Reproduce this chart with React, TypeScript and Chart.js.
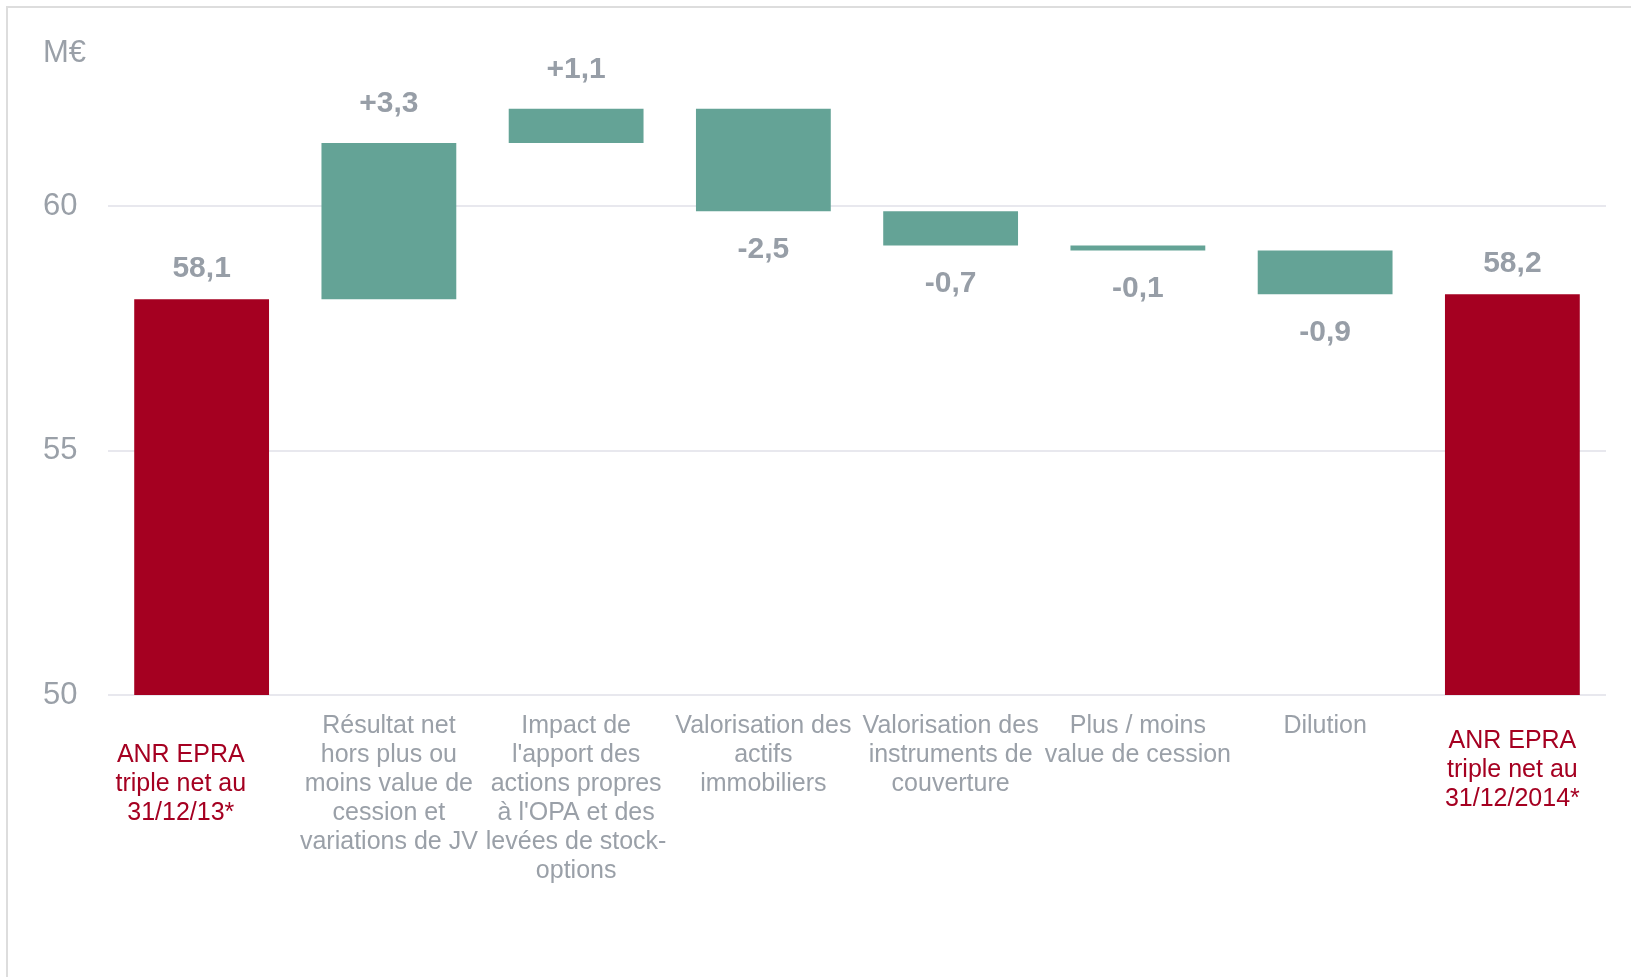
import React, { useEffect, useRef } from "react";
import { Chart, registerables } from "chart.js";

Chart.register(...registerables);

const categories: string[][] = [
  ["", "ANR EPRA      ", "triple net au      ", "31/12/13*      "],
  ["Résultat net", "hors plus ou", "moins value de", "cession et", "variations de JV"],
  ["Impact de", "l'apport des", "actions propres", "à l'OPA et des", "levées de stock-", "options"],
  ["Valorisation des", "actifs", "immobiliers"],
  ["Valorisation des", "instruments de", "couverture"],
  ["Plus / moins", "value de cession"],
  ["Dilution"],
  ["ANR EPRA", "triple net au", "31/12/2014*"],
];

const barStart: number[] = [50, 58.1, 61.3, 62.0, 59.9, 59.2, 59.1, 50];
const barEnd: number[] = [58.1, 61.3, 62.0, 59.9, 59.2, 59.1, 58.2, 58.2];
const valueLabels: string[] = ["58,1", "+3,3", "+1,1", "-2,5", "-0,7", "-0,1", "-0,9", "58,2"];
const isTotal: boolean[] = [true, false, false, false, false, false, false, true];

const yMin = 50;
const yMax = 63.14;
const yStep = 5;
const yUnitLabel = "M€";

const RED = "#A50021";
const TEAL = "#64A396";
const GRAY = "#9AA0A8";
const LABEL_GRAY = "#979EA7";
const FONT = "'Liberation Sans', Arial, Helvetica, sans-serif";
const LAST = categories.length - 1;

const valueLabelPlugin = {
  id: "valueLabels",
  afterDatasetsDraw(chart: any) {
    const ctx = chart.ctx;
    const meta = chart.getDatasetMeta(0);
    ctx.save();
    ctx.font = `bold 30px ${FONT}`;
    ctx.fillStyle = LABEL_GRAY;
    ctx.textAlign = "center";
    ctx.textBaseline = "middle";
    meta.data.forEach((bar: any, i: number) => {
      const top = Math.min(bar.y, bar.base);
      const bottom = Math.max(bar.y, bar.base);
      const negative = !isTotal[i] && barEnd[i] < barStart[i];
      const y = negative ? bottom + 38 : top - (isTotal[i] ? 31 : 39);
      ctx.fillText(valueLabels[i], bar.x, y);
    });
    ctx.restore();
  },
};

const tickFont = { family: FONT, size: 25, lineHeight: 1.16 } as any;

export default function App() {
  const ref = useRef<HTMLCanvasElement | null>(null);

  useEffect(() => {
    if (!ref.current) return;
    const chart = new Chart(ref.current, {
      type: "bar",
      data: {
        labels: categories as any,
        datasets: [
          {
            data: barStart.map((s, i) => [s, barEnd[i]]) as any,
            backgroundColor: isTotal.map((t) => (t ? RED : TEAL)),
            borderWidth: 0,
            barPercentage: 0.72,
            categoryPercentage: 1,
          },
        ],
      },
      options: {
        animation: false,
        responsive: true,
        maintainAspectRatio: false,
        layout: { padding: { top: 53, left: 43, right: 25, bottom: 74 } },
        plugins: {
          legend: { display: false },
          tooltip: { enabled: false },
          title: { display: false },
        },
        scales: {
          x: {
            grid: { display: false, drawTicks: false },
            border: { display: false },
            ticks: {
              autoSkip: false,
              maxRotation: 0,
              minRotation: 0,
              padding: 17,
              font: tickFont,
              color: (c: any) => (isTotal[c.index] ? RED : GRAY),
              callback: (_v: any, i: number) => (i === LAST ? "" : categories[i]),
            },
          },
          x2: {
            type: "category",
            position: "bottom",
            weight: -1,
            labels: categories as any,
            min: 0,
            max: LAST,
            offset: true,
            afterFit: (axis: any) => {
              axis.height = 0;
            },
            grid: { display: false, drawTicks: false },
            border: { display: false },
            ticks: {
              autoSkip: false,
              maxRotation: 0,
              minRotation: 0,
              mirror: true,
              padding: -61,
              font: tickFont,
              color: RED,
              callback: (_v: any, i: number) => (i === LAST ? categories[i] : ""),
            },
          } as any,
          y: {
            min: yMin,
            max: yMax,
            afterFit: (axis: any) => {
              axis.width = 65;
            },
            grid: {
              drawTicks: false,
              lineWidth: 2,
              color: (c: any) => (c.tick && c.tick.value === yMax ? "rgba(0,0,0,0)" : "#E8E8EE"),
            },
            border: { display: false },
            ticks: {
              stepSize: yStep,
              crossAlign: "far",
              padding: 0,
              font: { family: FONT, size: 31 },
              color: GRAY,
              callback: (v: any) => (v === yMax ? yUnitLabel : String(v)),
            },
          },
        },
      },
      plugins: [valueLabelPlugin],
    });
    return () => chart.destroy();
  }, []);

  return (
    <>
      <div
        style={{
          position: "absolute",
          left: 6,
          top: 6,
          width: 1625,
          height: 971,
          boxSizing: "border-box",
          borderTop: "2px solid #DDDDDD",
          borderLeft: "2px solid #DDDDDD",
        }}
      />
      <div style={{ position: "absolute", left: 0, top: 0, width: 1631, height: 977 }}>
        <canvas ref={ref} />
      </div>
    </>
  );
}
